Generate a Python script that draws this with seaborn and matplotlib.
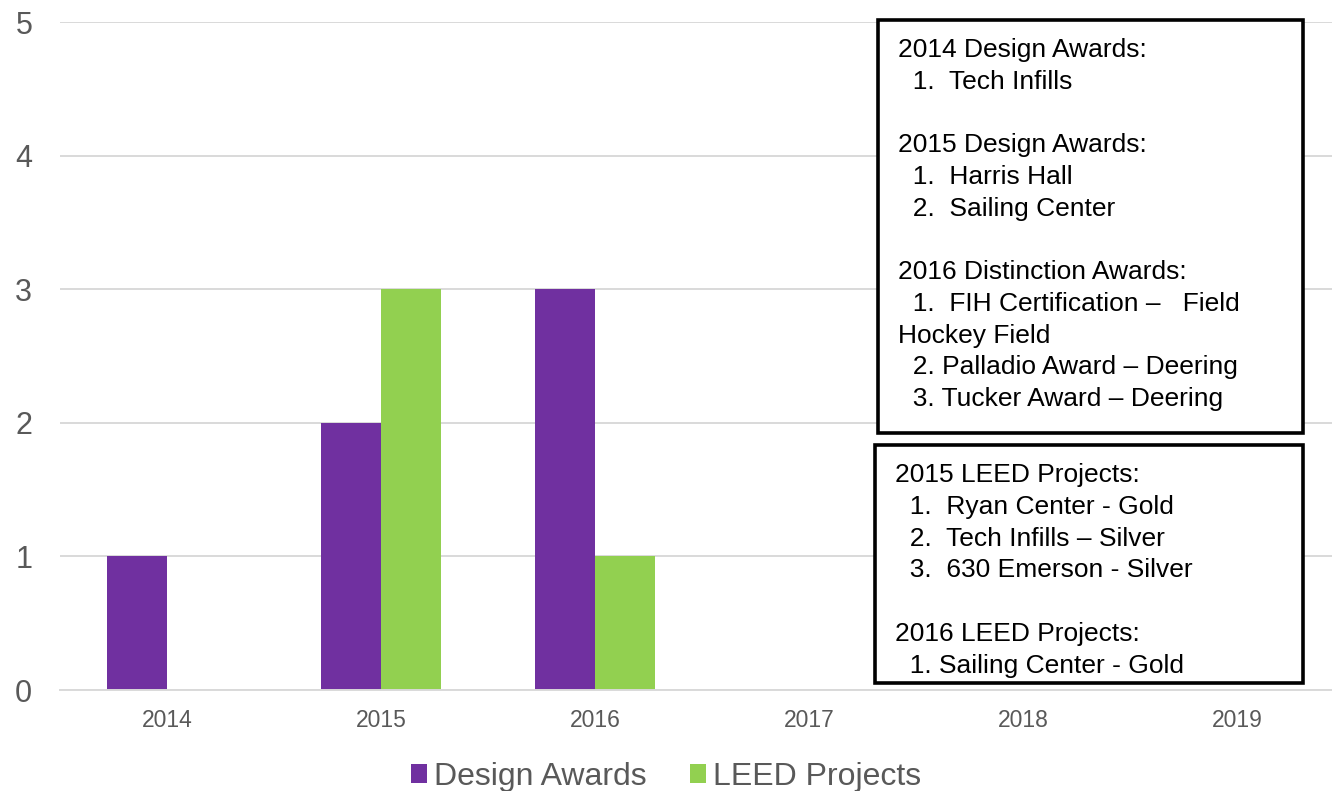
import pandas as pd
import matplotlib.pyplot as plt
import seaborn as sns
from matplotlib.patches import Rectangle

# awards / LEED counts per year
years = ["2014", "2015", "2016", "2017", "2018", "2019"]
design_awards = [1, 2, 3, 0, 0, 0]
leed_projects = [0, 3, 1, 0, 0, 0]
series_names = ["Design Awards", "LEED Projects"]
y_ticks = [0, 1, 2, 3, 4, 5]

award_notes = [
    "2014 Design Awards:",
    "  1.  Tech Infills",
    "",
    "2015 Design Awards:",
    "  1.  Harris Hall",
    "  2.  Sailing Center",
    "",
    "2016 Distinction Awards:",
    "  1.  FIH Certification \u2013   Field",
    "Hockey Field",
    "  2. Palladio Award \u2013 Deering",
    "  3. Tucker Award \u2013 Deering",
]
leed_notes = [
    "2015 LEED Projects:",
    "  1.  Ryan Center - Gold",
    "  2.  Tech Infills \u2013 Silver",
    "  3.  630 Emerson - Silver",
    "",
    "2016 LEED Projects:",
    "  1. Sailing Center - Gold",
]

df = pd.DataFrame({
    "year": years * 2,
    "count": design_awards + leed_projects,
    "series": [series_names[0]] * len(years) + [series_names[1]] * len(years),
})

sns.set_style("white")
plt.rcParams["font.family"] = ["Liberation Sans", "DejaVu Sans"]

W, H = 1332, 791
fig = plt.figure(figsize=(W / 100, H / 100), dpi=100)
ax = fig.add_axes([60 / W, 1 - 690 / H, 1284 / W, 668 / H])

sns.barplot(data=df, x="year", y="count", hue="series",
            palette=["#7030A0", "#92D050"], saturation=1, width=0.56,
            linewidth=0, ax=ax)
handles, labels = ax.get_legend_handles_labels()
ax.get_legend().remove()

ax.set_ylim(0, 5)
ax.set_yticks(y_ticks)
ax.set_xlabel("")
ax.set_ylabel("")
ax.grid(axis="y", color="#D9D9D9", linewidth=1.4)
ax.set_axisbelow(True)
for s in ["top", "right", "left"]:
    ax.spines[s].set_visible(False)
ax.spines["bottom"].set_color("#D9D9D9")
ax.spines["bottom"].set_linewidth(1.4)
ax.tick_params(axis="y", length=0, pad=20, labelsize=22, labelcolor="#595959")
ax.tick_params(axis="x", length=0, pad=14, labelsize=16.5, labelcolor="#595959")

fig.legend(handles, labels, loc="center", bbox_to_anchor=(0.5, 1 - 777 / H),
           ncol=2, frameon=False, fontsize=23, labelcolor="#595959",
           handlelength=0.5, handleheight=0.55, handletextpad=0.22,
           columnspacing=1.35)


# text boxes drawn in pixel coords (from top-left)
def note_box(x0, y0, x1, y1, lines, tx, base0, step=31.75):
    fig.patches.append(Rectangle((x0 / W, 1 - y1 / H), (x1 - x0) / W, (y1 - y0) / H,
                                 transform=fig.transFigure, facecolor="white",
                                 edgecolor="black", linewidth=2.6, zorder=5))
    for i, line in enumerate(lines):
        if line:
            fig.text(tx / W, 1 - (base0 + step * i) / H, line, fontsize=19,
                     color="black", va="baseline", ha="left", zorder=6)


note_box(878, 20, 1303, 433, award_notes, 898, 57)
note_box(875, 445, 1303, 683, leed_notes, 895, 482)

plt.savefig("out.png", dpi=100)
